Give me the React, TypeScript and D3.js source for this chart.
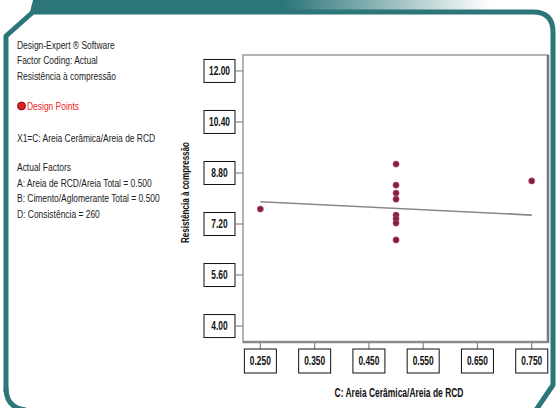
import React from "react";
import * as d3 from "d3";

const W = 558;
const H = 408;

const infoLines = [
  "Design-Expert ® Software",
  "Factor Coding: Actual",
  "Resistência à compressão",
];
const legendLabel = "Design Points";
const xFactorLine = "X1=C: Areia Cerâmica/Areia de RCD";
const actualFactors = [
  "Actual Factors",
  "A: Areia de RCD/Areia Total = 0.500",
  "B: Cimento/Aglomerante Total = 0.500",
  "D: Consistência = 260",
];

const xTicks = [0.25, 0.35, 0.45, 0.55, 0.65, 0.75];
const yTicks = [4.0, 5.6, 7.2, 8.8, 10.4, 12.0];

const pointX = [0.25, 0.5, 0.5, 0.5, 0.5, 0.5, 0.5, 0.5, 0.5, 0.75];
const pointY = [7.67, 9.08, 8.42, 8.17, 7.98, 7.48, 7.36, 7.23, 6.7, 8.55];

const fitX = [0.25, 0.75];
const fitY = [7.9, 7.48];

const xTitle = "C: Areia Cerâmica/Areia de RCD";
const yTitle = "Resistência à compressão";

const FONT = "'Liberation Sans', Arial, sans-serif";
const TEAL = "#2c7579";
const SX = 0.735; // horizontal squeeze of the reference text

function T({ x, y, sx = SX, children, ...rest }: any) {
  return (
    <text transform={`translate(${x},${y}) scale(${sx},1)`} {...rest}>
      {children}
    </text>
  );
}

export default function App() {
  const left = 243, right = 548, top = 55, bottom = 342;
  const x = d3.scaleLinear().domain([0.218, 0.78]).range([left, right]);
  const y = d3.scaleLinear().domain([3.5, 12.5]).range([bottom, top]);
  const line = d3
    .line<number>()
    .x((_, i) => x(fitX[i]))
    .y((d) => y(d));

  const framePath = `M6,392 L6,36 L33,12 L533,12 Q553,12 553,32 L553,385 L536,410`;

  return (
    <svg
      width={W}
      height={H}
      style={{ position: "absolute", left: 0, top: 0, background: "#fff" }}
      fontFamily={FONT}
    >
      <defs>
        <linearGradient id="topbar" x1="0" x2="1" y1="0" y2="0">
          <stop offset="0" stopColor={TEAL} />
          <stop offset="0.55" stopColor={TEAL} />
          <stop offset="1" stopColor="#ffffff" />
        </linearGradient>
      </defs>
      <rect width={W} height={H} fill="#fff" />
      {/* decorative frame */}
      <path d="M33,0 L490,0 L490,12 L30,12 Z" fill="url(#topbar)" />
      <path d={framePath} fill="none" stroke={TEAL} strokeWidth={5} strokeLinejoin="round" />
      <path d="M6,388 Q6,408 26,410" fill="none" stroke={TEAL} strokeWidth={5} />

      {/* left info panel */}
      <g fontSize={11.5} fill="#222">
        {infoLines.map((t, i) => (
          <T key={t} x={17} y={49 + i * 15.3}>
            {t}
          </T>
        ))}
        <circle cx={21.5} cy={106} r={4} fill="#e41e26" stroke="#600" strokeWidth={0.8} />
        <T x={27} y={110} fill="#ee1c25">
          {legendLabel}
        </T>
        <T x={17} y={141.5}>
          {xFactorLine}
        </T>
        {actualFactors.map((t, i) => (
          <T key={t} x={17} y={171 + i * 15.6}>
            {t}
          </T>
        ))}
      </g>

      {/* plot box */}
      <rect x={left} y={top} width={right - left} height={bottom - top} fill="#fff" stroke="#999" strokeWidth={1.5} />
      <line x1={right} x2={right} y1={top} y2={bottom + 1} stroke="#777" strokeWidth={2.5} />
      <line x1={left} x2={right} y1={bottom} y2={bottom} stroke="#8a8a8a" strokeWidth={2.5} />

      {/* y ticks */}
      {yTicks.map((t) => (
        <g key={t}>
          <line x1={236} x2={left} y1={y(t)} y2={y(t)} stroke="#888" strokeWidth={1.2} />
          <rect x={204} y={y(t) - 11.5} width={31} height={23} fill="#fff" stroke="#111" strokeWidth={1} />
          <T x={219.5} y={y(t) + 4.3} sx={0.7} textAnchor="middle" fontSize={12} fontWeight="bold" fill="#111">
            {t.toFixed(2)}
          </T>
        </g>
      ))}

      {/* x ticks */}
      {xTicks.map((t) => (
        <g key={t}>
          <line x1={x(t)} x2={x(t)} y1={bottom} y2={349} stroke="#888" strokeWidth={1.2} />
          <rect x={x(t) - 16} y={349} width={32} height={24} fill="#fff" stroke="#111" strokeWidth={1} />
          <T x={x(t)} y={365.3} sx={0.7} textAnchor="middle" fontSize={12} fontWeight="bold" fill="#111">
            {t.toFixed(3)}
          </T>
        </g>
      ))}

      {/* titles */}
      <T x={399} y={397} sx={0.705} textAnchor="middle" fontSize={12} fontWeight="bold" fill="#111">
        {xTitle}
      </T>
      <text
        transform={`translate(189,192.5) rotate(-90) scale(0.7,1)`}
        textAnchor="middle"
        fontSize={11.5}
        fontWeight="bold"
        fill="#111"
      >
        {yTitle}
      </text>

      {/* fit line */}
      <path d={line(fitY) || ""} fill="none" stroke="#888" strokeWidth={1.6} />

      {/* design points */}
      {pointY.map((v, i) => (
        <circle key={i} cx={x(pointX[i])} cy={y(v)} r={3.1} fill="#84203f" stroke="#c0506a" strokeWidth={0.6} />
      ))}
    </svg>
  );
}
